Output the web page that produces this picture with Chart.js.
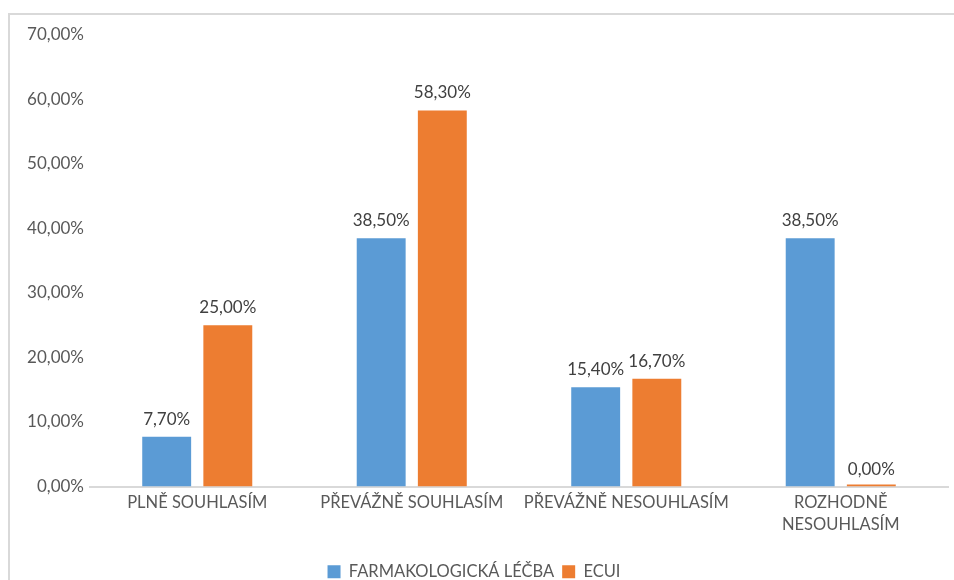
<!DOCTYPE html>
<html>
<head>
<meta charset="utf-8">
<script src="https://cdn.jsdelivr.net/npm/chart.js@4/dist/chart.umd.min.js"></script>
<style>
    html, body { margin: 0; padding: 0; background: #fff; }
    #wrap { position: relative; width: 954px; height: 580px; overflow: hidden; }
    #frame { position: absolute; left: 8px; top: 13px; width: 1000px; height: 600px; border: 2px solid #d9d9d9; box-sizing: border-box; }
    #chart { position: absolute; left: 0; top: 0; }
</style>
</head>
<body>
<div id="wrap">
    <div id="frame"></div>
    <canvas id="chart" width="954" height="590"></canvas>
</div>
<script>
// Answers per category, in percent
const categories = ['PLNĚ SOUHLASÍM', 'PŘEVÁŽNĚ SOUHLASÍM', 'PŘEVÁŽNĚ NESOUHLASÍM', ['ROZHODNĚ', 'NESOUHLASÍM']];
const farmakologicka = [7.7, 38.5, 15.4, 38.5];
const ecui = [25.0, 58.3, 16.7, 0.0];
const seriesNames = ['FARMAKOLOGICKÁ LÉČBA', 'ECUI'];

const pct = v => v.toFixed(2).replace('.', ',') + '%';

// Value labels above each bar
const barLabels = {
    id: 'barLabels',
    afterDatasetsDraw(chart) {
        const ctx = chart.ctx;
        ctx.save();
        ctx.font = '17px Lato';
        ctx.fillStyle = '#404040';
        ctx.textAlign = 'center';
        ctx.textBaseline = 'alphabetic';
        chart.data.datasets.forEach((ds, i) => {
            chart.getDatasetMeta(i).data.forEach((bar, j) => {
                const y = chart.scales.y.getPixelForValue(ds.data[j]);
                ctx.fillText(pct(ds.data[j]), bar.x, y - 12);
            });
        });
        ctx.restore();
    }
};

new Chart(document.getElementById('chart').getContext('2d'), {
    type: 'bar',
    data: {
        labels: categories,
        datasets: [
            { label: seriesNames[0], data: farmakologicka, backgroundColor: '#5B9BD5' },
            { label: seriesNames[1], data: ecui, backgroundColor: '#ED7D31', minBarLength: 2 }
        ]
    },
    options: {
        responsive: false,
        animation: false,
        categoryPercentage: 0.57,
        barPercentage: 0.8,
        layout: { padding: { top: 35, right: 6, left: 0, bottom: 0 } },
        plugins: {
            tooltip: { enabled: false },
            legend: {
                position: 'bottom',
                labels: {
                    font: { family: 'Lato', size: 16.5 },
                    color: '#595959',
                    boxWidth: 13,
                    boxHeight: 13,
                    padding: 8
                }
            }
        },
        scales: {
            x: {
                grid: { display: false, drawTicks: false },
                border: { color: '#d9d9d9', width: 2 },
                ticks: {
                    font: { family: 'Lato', size: 16.5, lineHeight: 1.35 },
                    color: '#595959',
                    padding: 5,
                    maxRotation: 0,
                    autoSkip: false
                },
                afterFit(scale) { scale.height = 69; }
            },
            y: {
                min: 0,
                max: 70,
                grid: { display: false, drawTicks: false },
                border: { display: false },
                ticks: {
                    stepSize: 10,
                    font: { family: 'Lato', size: 17 },
                    color: '#595959',
                    padding: 6,
                    callback: v => pct(v)
                },
                afterFit(scale) { scale.width = 90; }
            }
        }
    },
    plugins: [barLabels]
});
</script>
</body>
</html>
